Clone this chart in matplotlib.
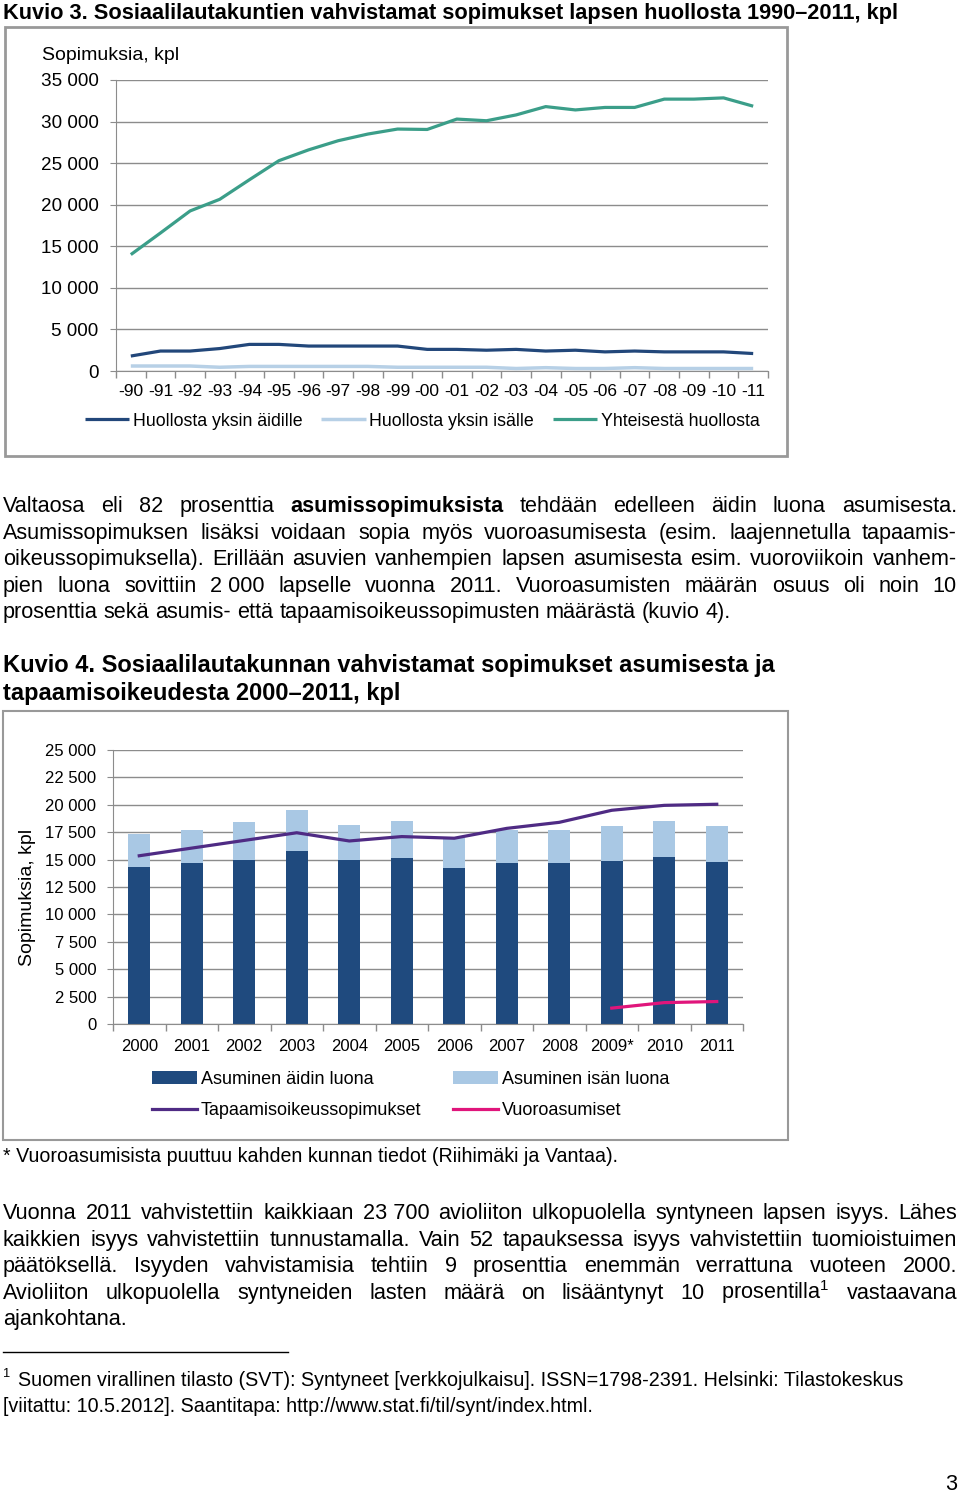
import matplotlib
matplotlib.use("Agg")
import matplotlib.pyplot as plt
import numpy as np
from matplotlib.patches import Rectangle
from matplotlib.lines import Line2D

plt.rcParams['font.family'] = ['Liberation Sans', 'DejaVu Sans']
plt.rcParams['mathtext.fontset'] = 'custom'
plt.rcParams['mathtext.rm'] = 'Liberation Sans'

# Kuvio 3 data
years_90 = ['-90', '-91', '-92', '-93', '-94', '-95', '-96', '-97', '-98', '-99', '-00',
            '-01', '-02', '-03', '-04', '-05', '-06', '-07', '-08', '-09', '-10', '-11']
aidille = [1800, 2400, 2400, 2700, 3200, 3200, 3000, 3000, 3000, 3000, 2600,
           2600, 2500, 2600, 2400, 2500, 2300, 2400, 2300, 2300, 2300, 2100]
isalle = [600, 600, 600, 450, 550, 550, 550, 550, 550, 450, 450,
          450, 450, 300, 400, 300, 300, 400, 300, 300, 300, 300]
yhteinen = [14000, 16600, 19250, 20650, 23000, 25300, 26600, 27700, 28500, 29100, 29050,
            30300, 30100, 30800, 31800, 31400, 31700, 31700, 32700, 32700, 32850, 31850]

# Kuvio 4 data
years_00 = ['2000', '2001', '2002', '2003', '2004', '2005', '2006', '2007', '2008', '2009*', '2010', '2011']
aidin_luona = [14300, 14650, 15000, 15750, 15000, 15150, 14200, 14650, 14650, 14900, 15250, 14800]
isan_luona = [3050, 3050, 3450, 3750, 3200, 3400, 2750, 3050, 3050, 3150, 3300, 3250]
tapaamis = [15350, 16050, 16750, 17450, 16700, 17100, 16950, 17850, 18400, 19500, 19950, 20050]
vuoro_years = ['2009*', '2010', '2011']
vuoro = [1450, 1950, 2050]

W, H = 960, 1493
fig = plt.figure(figsize=(W / 100, H / 100), dpi=100)
renderer = fig.canvas.get_renderer()


def fx(x):
    return x / W


def fy(y):
    return 1 - y / H


def width_of(t):
    return t.get_window_extent(renderer).width


def fit_size(text, target, weight='normal', start=14):
    t = fig.text(0, 0, text, fontsize=start, fontweight=weight)
    w = width_of(t)
    t.remove()
    return start * target / w


def put_line(y, words, x0, x1, size, justify=True, bold=()):
    texts = []
    for i, w in enumerate(words):
        texts.append(fig.text(0, fy(y), w, fontsize=size, va='baseline',
                              fontweight='bold' if i in bold else 'normal'))
    widths = [width_of(t) for t in texts]
    if justify and len(words) > 1:
        gap = (x1 - x0 - sum(widths)) / (len(words) - 1)
    else:
        gap = size * 0.278 * 100 / 72
    x = x0
    for t, w in zip(texts, widths):
        t.set_x(fx(x))
        x += w + gap


GRAY = '#8c8c8c'

# ---------- Kuvio 3 ----------
s = fit_size('Kuvio 3. Sosiaalilautakuntien vahvistamat sopimukset lapsen huollosta 1990–2011, kpl', 897, 'bold')
fig.text(fx(3), fy(19), 'Kuvio 3. Sosiaalilautakuntien vahvistamat sopimukset lapsen huollosta 1990–2011, kpl',
         fontsize=s, fontweight='bold', va='baseline')
fig.add_artist(Rectangle((fx(5), fy(456)), (787 - 5) / W, (456 - 27) / H, transform=fig.transFigure,
                         fill=False, ec='#999999', lw=2))

ax1 = fig.add_axes([fx(116), fy(371), (768 - 116) / W, (371 - 80) / H])
x1 = np.arange(len(years_90))
l1, = ax1.plot(x1, aidille, color='#22477a', lw=2.3, solid_capstyle='butt')
l2, = ax1.plot(x1, isalle, color='#b7d0e6', lw=2.5, solid_capstyle='butt')
l3, = ax1.plot(x1, yhteinen, color='#3b9e89', lw=2.3, solid_capstyle='butt')
ax1.set_xlim(-0.5, len(years_90) - 0.5)
ax1.set_ylim(0, 35000)
ax1.set_yticks(np.arange(0, 35001, 5000))
ax1.set_yticklabels([f'{v:,}'.replace(',', ' ') for v in range(0, 35001, 5000)])
ax1.set_xticks(np.arange(-0.5, len(years_90)), minor=False)
ax1.set_xticklabels([])
ax1.set_xticks(x1, minor=True)
ax1.set_xticklabels(years_90, minor=True)
ax1.tick_params(axis='x', which='major', length=5, color=GRAY, width=1)
ax1.tick_params(axis='x', which='minor', length=0, pad=9, labelsize=12.5)
ax1.tick_params(axis='y', length=4, color=GRAY, pad=8.5, labelsize=13.6)
ax1.grid(axis='y', color=GRAY, lw=1)
ax1.set_axisbelow(True)
for side in ['top', 'right']:
    ax1.spines[side].set_visible(False)
for side in ['left', 'bottom']:
    ax1.spines[side].set_color(GRAY)
fig.text(fx(42), fy(55), 'Sopimuksia, kpl', fontsize=14, va='center')
fig.legend([l1, l2, l3], ['Huollosta yksin äidille', 'Huollosta yksin isälle', 'Yhteisestä huollosta'],
           loc='center left', bbox_to_anchor=(fx(85), fy(421)), ncol=3, frameon=False, fontsize=12.8,
           handlelength=2.5, handletextpad=0.2, columnspacing=1.05, borderpad=0, borderaxespad=0)

# ---------- body text 1 ----------
bs = fit_size('prosenttia sekä asumis- että tapaamisoikeussopimusten määrästä (kuvio 4).', 734)
para1 = [
    ('Valtaosa eli 82 prosenttia asumissopimuksista tehdään edelleen äidin luona asumisesta.', True, (4,)),
    ('Asumissopimuksen lisäksi voidaan sopia myös vuoroasumisesta (esim. laajennetulla tapaamis-', True, ()),
    ('oikeussopimuksella). Erillään asuvien vanhempien lapsen asumisesta esim. vuoroviikoin vanhem-', True, ()),
    ('pien luona sovittiin 2\u00a0000 lapselle vuonna 2011. Vuoroasumisten määrän osuus oli noin 10', True, ()),
    ('prosenttia sekä asumis- että tapaamisoikeussopimusten määrästä (kuvio 4).', False, ()),
]
for i, (line, just, bold) in enumerate(para1):
    put_line(512 + i * 26.6, line.split(' '), 3, 957, bs, just, bold)

# ---------- Kuvio 4 ----------
ts = fit_size('Kuvio 4. Sosiaalilautakunnan vahvistamat sopimukset asumisesta ja', 774, 'bold')
fig.text(fx(3), fy(672), 'Kuvio 4. Sosiaalilautakunnan vahvistamat sopimukset asumisesta ja',
         fontsize=ts, fontweight='bold', va='baseline')
fig.text(fx(3), fy(700), 'tapaamisoikeudesta 2000–2011, kpl', fontsize=ts, fontweight='bold', va='baseline')
fig.add_artist(Rectangle((fx(3), fy(1140)), (788 - 3) / W, (1140 - 711) / H, transform=fig.transFigure,
                         fill=False, ec='#999999', lw=1.5))

ax2 = fig.add_axes([fx(113), fy(1024), (743 - 113) / W, (1024 - 750) / H])
x2 = np.arange(len(years_00))
b1 = ax2.bar(x2, aidin_luona, width=0.42, color='#1f4a7e', zorder=2)
b2 = ax2.bar(x2, isan_luona, width=0.42, bottom=aidin_luona, color='#a9c8e4', zorder=2)
l4, = ax2.plot(x2, tapaamis, color='#4f2b84', lw=2.3, zorder=3)
xv = [years_00.index(y) for y in vuoro_years]
l5, = ax2.plot(xv, vuoro, color='#e0157b', lw=2.3, zorder=3)
ax2.set_xlim(-0.5, len(years_00) - 0.5)
ax2.set_ylim(0, 25000)
ax2.set_yticks(np.arange(0, 25001, 2500))
ax2.set_yticklabels([f'{v:,}'.replace(',', ' ') for v in range(0, 25001, 2500)])
ax2.set_xticks(np.arange(-0.5, len(years_00)), minor=False)
ax2.set_xticklabels([])
ax2.set_xticks(x2, minor=True)
ax2.set_xticklabels(years_00, minor=True)
ax2.tick_params(axis='x', which='major', length=5, color=GRAY, width=1)
ax2.tick_params(axis='x', which='minor', length=0, pad=11, labelsize=12)
ax2.tick_params(axis='y', length=4, color=GRAY, pad=8, labelsize=12)
ax2.grid(axis='y', color=GRAY, lw=1, zorder=0)
ax2.set_axisbelow(True)
for side in ['top', 'right']:
    ax2.spines[side].set_visible(False)
for side in ['left', 'bottom']:
    ax2.spines[side].set_color(GRAY)
fig.text(fx(27), fy(897), 'Sopimuksia, kpl', fontsize=14, rotation=90, va='center', ha='center')
fig.legend([b1, l4, b2, l5],
           ['Asuminen äidin luona', 'Tapaamisoikeussopimukset', 'Asuminen isän luona', 'Vuoroasumiset'],
           loc='upper left', bbox_to_anchor=(fx(152), fy(1071)), ncol=2, frameon=False, fontsize=13,
           handlelength=2.5, handletextpad=0.2, columnspacing=1.75, labelspacing=0.8,
           borderpad=0, borderaxespad=0)

fs = fit_size('* Vuoroasumisista puuttuu kahden kunnan tiedot (Riihimäki ja Vantaa).', 619)
fig.text(fx(3), fy(1162), '* Vuoroasumisista puuttuu kahden kunnan tiedot (Riihimäki ja Vantaa).',
         fontsize=fs, va='baseline')

# ---------- body text 2 ----------
para2 = [
    ('Vuonna 2011 vahvistettiin kaikkiaan 23\u00a0700 avioliiton ulkopuolella syntyneen lapsen isyys. Lähes', True),
    ('kaikkien isyys vahvistettiin tunnustamalla. Vain 52 tapauksessa isyys vahvistettiin tuomioistuimen', True),
    ('päätöksellä. Isyyden vahvistamisia tehtiin 9 prosenttia enemmän verrattuna vuoteen 2000.', True),
    ('Avioliiton ulkopuolella syntyneiden lasten määrä on lisääntynyt 10 prosentilla$^{1}$ vastaavana', True),
    ('ajankohtana.', False),
]
for i, (line, just) in enumerate(para2):
    put_line(1219 + i * 26.6, line.split(' '), 3, 957, bs, just)

# ---------- footnote ----------
fig.add_artist(Line2D([fx(3), fx(288)], [fy(1352), fy(1352)], transform=fig.transFigure, color='black', lw=1))
ns = fit_size('Suomen virallinen tilasto (SVT): Syntyneet [verkkojulkaisu]. ISSN=1798-2391. Helsinki: Tilastokeskus', 887)
fig.text(fx(3), fy(1377), '1', fontsize=ns * 0.65, va='baseline')
fig.text(fx(18), fy(1386), 'Suomen virallinen tilasto (SVT): Syntyneet [verkkojulkaisu]. ISSN=1798-2391. Helsinki: Tilastokeskus',
         fontsize=ns, va='baseline')
fig.text(fx(3), fy(1412), '[viitattu: 10.5.2012]. Saantitapa: http://www.stat.fi/til/synt/index.html.',
         fontsize=ns, va='baseline')
fig.text(fx(957), fy(1484), '3', fontsize=bs, va='center', ha='right')

fig.savefig('out.png', dpi=100)
